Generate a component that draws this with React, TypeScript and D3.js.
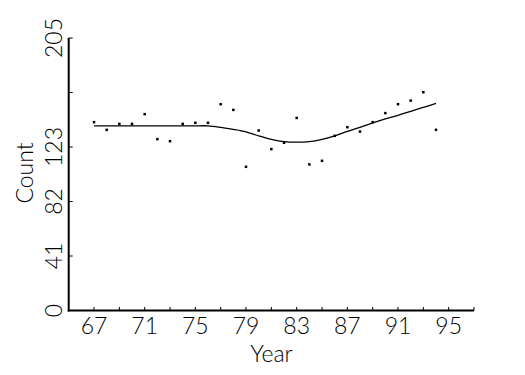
import React from "react";
import * as d3 from "d3";

const years = [67, 68, 69, 70, 71, 72, 73, 74, 75, 76, 77, 78, 79, 80, 81, 82, 83, 84, 85, 86, 87, 88, 89, 90, 91, 92, 93, 94];
const counts = [141.7, 135.9, 140.4, 140.4, 147.7, 128.9, 127.4, 140.4, 141.2, 141.2, 155.2, 150.9, 108.1, 135.4, 121.4, 126.2, 144.9, 109.9, 112.6, 131.4, 137.9, 134.6, 141.7, 148.5, 155.2, 157.9, 164.2, 135.9];
// smoothed curve, same years
const smooth = [138.9, 138.9, 138.9, 138.9, 138.9, 138.9, 138.9, 138.9, 138.9, 138.9, 137.8, 136.3, 134.4, 131.4, 128.8, 127.1, 126.7, 127.1, 128.8, 131.4, 134.8, 137.8, 141.2, 144.2, 146.8, 149.8, 152.8, 155.8];

const xTicks = [67, 69, 71, 73, 75, 77, 79, 81, 83, 85, 87, 89, 91, 93, 95, 97];
const xLabels = [67, 71, 75, 79, 83, 87, 91, 95];
const yTicks = [0, 41, 82, 123, 164, 205];
// 164 has a tick but no label in the original
const yLabels = [0, 41, 82, 123, 205];

const W = 525;
const H = 375;
const FONT = "Lato, 'DejaVu Sans', sans-serif";

export default function App() {
  const x = d3.scaleLinear().domain([65, 97]).range([68.7, 474]);
  const y = d3.scaleLinear().domain([0, 205]).range([310.5, 38]);

  const line = d3
    .line<number>()
    .x((_, i) => x(years[i]))
    .y((d) => y(d))
    .curve(d3.curveCatmullRom);

  const txt = { fontFamily: FONT, fontWeight: 300, fontSize: 23, fill: "#000" } as const;

  return (
    <svg
      width={W}
      height={H}
      style={{ position: "absolute", left: 0, top: 0, background: "#fff" }}
    >
      {/* axes */}
      <line x1={x(65)} x2={x(65)} y1={y(205)} y2={y(0) + 1} stroke="#000" strokeWidth={2} />
      <line x1={x(65) - 1} x2={x(97)} y1={y(0)} y2={y(0)} stroke="#000" strokeWidth={2} />

      {yTicks.map((t) => (
        <line key={"yt" + t} x1={x(65)} x2={x(65) + 4} y1={y(t)} y2={y(t)} stroke="#000" strokeWidth={1} />
      ))}
      {xTicks.map((t) => (
        <line key={"xt" + t} x1={x(t)} x2={x(t)} y1={y(0)} y2={y(0) - 3.5} stroke="#000" strokeWidth={1} />
      ))}

      {yLabels.map((t) => (
        <text key={"yl" + t} transform={`translate(61.5,${y(t)}) rotate(-90)`} textAnchor="middle" style={txt}>
          {t}
        </text>
      ))}
      {xLabels.map((t) => (
        <text key={"xl" + t} x={x(t)} y={333.5} textAnchor="middle" style={txt}>
          {t}
        </text>
      ))}

      <text x={271.5} y={362} textAnchor="middle" style={txt}>
        Year
      </text>
      <text transform="translate(33,173) rotate(-90)" textAnchor="middle" style={txt}>
        Count
      </text>

      {/* smoothed fit */}
      <path d={line(smooth) ?? ""} fill="none" stroke="#000" strokeWidth={1.3} />

      {/* points */}
      {counts.map((c, i) => (
        <rect key={"p" + i} x={x(years[i]) - 1.25} y={y(c) - 1.25} width={2.5} height={2.5} fill="#000" />
      ))}
    </svg>
  );
}
